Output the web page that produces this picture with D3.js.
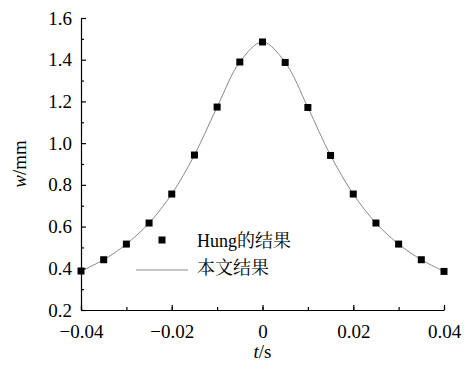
<!DOCTYPE html>
<html>
<head>
<meta charset="utf-8">
<script src="https://cdn.jsdelivr.net/npm/d3@7"></script>
<style>
  body { margin: 0; background: #fff; }
</style>
</head>
<body>
<svg id="chart" width="476" height="366"></svg>
<script>
// time (s) and deflection (mm)
const tValues = [-0.04, -0.035, -0.03, -0.025, -0.02, -0.015, -0.01, -0.005, 0,
  0.005, 0.01, 0.015, 0.02, 0.025, 0.03, 0.035, 0.04];
const hungValues = [0.387, 0.441, 0.516, 0.617, 0.756, 0.943, 1.173, 1.389, 1.485,
  1.387, 1.171, 0.941, 0.756, 0.617, 0.516, 0.441, 0.385];
const xTickValues = [-0.04, -0.02, 0, 0.02, 0.04];
const yTickValues = [0.2, 0.4, 0.6, 0.8, 1.0, 1.2, 1.4, 1.6];
const legendLabels = ['Hung的结果', '本文结果'];

const FONT = "'Liberation Serif', 'Noto Serif CJK SC', serif";

const margin = { top: 18, right: 32, bottom: 56, left: 81 };
const totalWidth = 476;
const totalHeight = 366;
const width = totalWidth - margin.left - margin.right;
const height = totalHeight - margin.top - margin.bottom;

const svg = d3.select('#chart');
const g = svg.append('g').attr('transform', `translate(${margin.left}, ${margin.top})`);

const xScale = d3.scaleLinear([-0.04, 0.04], [0, width]);
const yScale = d3.scaleLinear([0.2, 1.6], [height, 0]);

/* bottom axis, ticks pointing inward */
const xAxis = g.append('g').attr('transform', `translate(0, ${height})`);
xAxis.call(d3.axisBottom(xScale).tickValues(d3.range(-0.04, 0.0401, 0.01)).tickSize(-3).tickFormat(''));
xAxis.call((a) => a.select('.domain').remove());
const xMajor = g.append('g').attr('transform', `translate(0, ${height})`)
  .call(d3.axisBottom(xScale).tickValues(xTickValues).tickSizeInner(-5).tickSizeOuter(0)
    .tickFormat((d) => (d === 0 ? '0' : d3.format('.2f')(d))));
xMajor.selectAll('text')
  .attr('y', 15)
  .attr('dy', '0.71em');

/* left axis, ticks pointing inward */
const yAxis = g.append('g');
yAxis.call(d3.axisLeft(yScale).tickValues(d3.range(0.3, 1.6, 0.2)).tickSize(-3).tickFormat(''));
yAxis.call((a) => a.select('.domain').remove());
const yMajor = g.append('g')
  .call(d3.axisLeft(yScale).tickValues(yTickValues).tickSizeInner(-5).tickSizeOuter(0)
    .tickFormat(d3.format('.1f')));
yMajor.selectAll('text').attr('x', -9);

g.selectAll('.domain, .tick line').attr('stroke', '#000').attr('stroke-width', 1.2);
g.selectAll('.tick text')
  .attr('font-family', FONT)
  .attr('font-size', 19)
  .attr('fill', '#000');

/* axis titles */
svg.append('text')
  .attr('transform', `translate(26, ${margin.top + height / 2}) rotate(-90)`)
  .attr('text-anchor', 'middle')
  .attr('font-family', FONT)
  .attr('font-size', 19)
  .html('<tspan font-style="italic">w</tspan>/mm');

svg.append('text')
  .attr('x', margin.left + width / 2)
  .attr('y', 358)
  .attr('text-anchor', 'middle')
  .attr('font-family', FONT)
  .attr('font-size', 19)
  .html('<tspan font-style="italic">t</tspan>/s');

/* curve */
const points = tValues.map((t, i) => ({ t, w: hungValues[i] }));
g.append('path')
  .datum(points)
  .attr('fill', 'none')
  .attr('stroke', '#8a8a8a')
  .attr('stroke-width', 1)
  .attr('d', d3.line().x((d) => xScale(d.t)).y((d) => yScale(d.w)).curve(d3.curveCatmullRom.alpha(0.5)));

/* markers */
const SIZE = 7;
g.selectAll('.pt')
  .data(points)
  .enter()
  .append('rect')
  .attr('class', 'pt')
  .attr('x', (d) => xScale(d.t) - SIZE / 2)
  .attr('y', (d) => yScale(d.w) - SIZE / 2)
  .attr('width', SIZE)
  .attr('height', SIZE)
  .attr('fill', '#000');

/* legend */
const legend = svg.append('g');
legend.append('rect')
  .attr('x', 162 - SIZE / 2).attr('y', 240 - SIZE / 2)
  .attr('width', SIZE).attr('height', SIZE).attr('fill', '#000');
legend.append('line')
  .attr('x1', 136).attr('x2', 188).attr('y1', 270).attr('y2', 270)
  .attr('stroke', '#8a8a8a').attr('stroke-width', 1);
legend.selectAll('.lbl')
  .data(legendLabels)
  .enter()
  .append('text')
  .attr('x', 197)
  .attr('y', (d, i) => 247 + i * 27)
  .attr('font-family', FONT)
  .attr('font-size', 18)
  .text((d) => d);
</script>
</body>
</html>
